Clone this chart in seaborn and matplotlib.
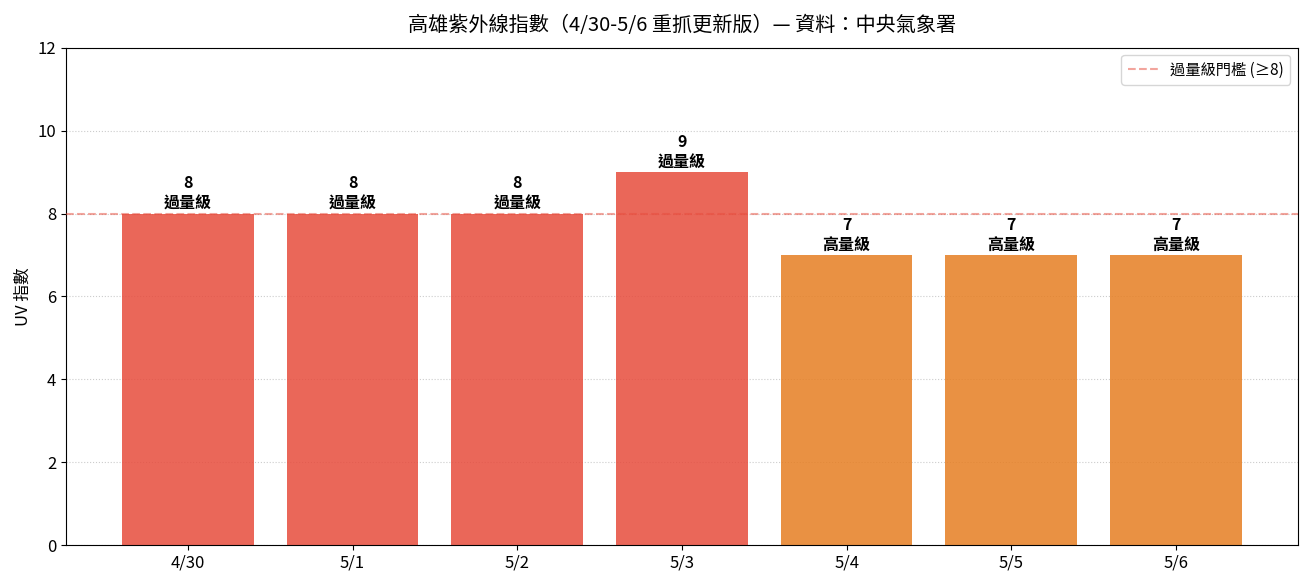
import matplotlib
matplotlib.use("Agg")
import matplotlib.pyplot as plt
import seaborn as sns
import pandas as pd

dates = ["4/30", "5/1", "5/2", "5/3", "5/4", "5/5", "5/6"]
uv = [8, 8, 8, 9, 7, 7, 7]
levels = ["過量級", "過量級", "過量級", "過量級", "高量級", "高量級", "高量級"]
level_colors = {"過量級": "#e74c3c", "高量級": "#e67e22"}
threshold = 8

sns.set_style("ticks")
plt.rcParams["font.family"] = ["Noto Sans CJK TC", "DejaVu Sans"]
plt.rcParams["axes.unicode_minus"] = False
plt.rcParams["text.color"] = "black"
plt.rcParams["axes.labelcolor"] = "black"
plt.rcParams["xtick.color"] = "black"
plt.rcParams["ytick.color"] = "black"

df = pd.DataFrame({"date": dates, "uv": uv, "level": levels})

fig, ax = plt.subplots(figsize=(13.07, 5.87), dpi=100)
sns.barplot(data=df, x="date", y="uv", hue="level", palette=level_colors,
            dodge=False, width=0.8, alpha=0.85, saturation=1, linewidth=0,
            legend=False, ax=ax, zorder=2)
ax.axhline(threshold, color="#e74c3c", alpha=0.5, linestyle="--", linewidth=1.5,
           label="過量級門檻 (≥8)", zorder=3)
for i, (v, lv) in enumerate(zip(uv, levels)):
    ax.text(i, v + 0.04, f"{v}\n{lv}", ha="center", va="bottom", fontsize=11.5,
            fontweight="bold", linespacing=1.35, color="black", zorder=4)

ax.set_ylim(0, 12)
ax.set_xlim(-0.74, len(dates) - 1 + 0.74)
ax.yaxis.grid(True, linestyle=":", color="#cccccc", linewidth=0.8, zorder=0)
ax.set_axisbelow(True)
ax.set_xlabel("")
ax.set_ylabel("UV 指數", fontsize=12)
ax.tick_params(labelsize=12)
ax.set_title("高雄紫外線指數（4/30-5/6 重抓更新版）— 資料：中央氣象署", fontsize=14.5, pad=12)
ax.legend(loc="upper right", fontsize=11)
for s in ax.spines.values():
    s.set_visible(True)
    s.set_color("black")
fig.tight_layout()
fig.subplots_adjust(right=0.993)
fig.savefig("out.png", dpi=100)
